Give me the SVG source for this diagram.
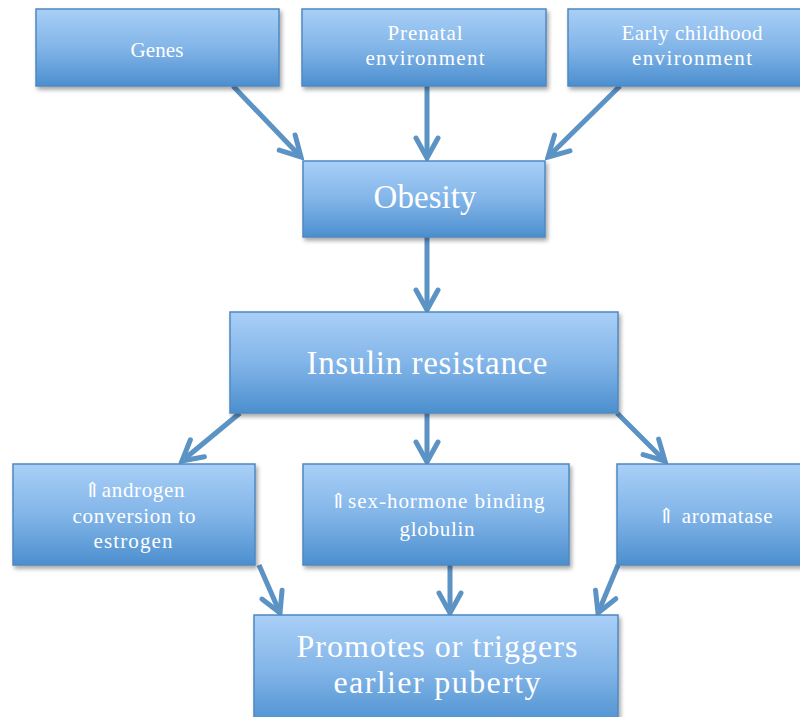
<svg xmlns="http://www.w3.org/2000/svg" width="800" height="717" viewBox="0 0 800 717">
<style>
.box{fill:url(#g);stroke:#4f88c0;stroke-width:1.5;filter:url(#sh)}
.t{font-family:"Liberation Serif","DejaVu Serif",serif;fill:#fff;text-anchor:middle}
.s{font-size:21px}
.b{font-size:33px}
.c{stroke:#5b93c4;stroke-width:5;fill:none;marker-end:url(#ah)}
</style>
<defs>
<linearGradient id="g" x1="0" y1="0" x2="0" y2="1">
<stop offset="0" stop-color="#a9cff7"/>
<stop offset="0.5" stop-color="#82b5e8"/>
<stop offset="1" stop-color="#4c8fcf"/>
</linearGradient>
<filter id="sh" x="-10%" y="-10%" width="120%" height="130%">
<feDropShadow dx="2" dy="3" stdDeviation="2" flood-color="#000" flood-opacity="0.35"/>
</filter>
<marker id="ah" markerUnits="userSpaceOnUse" viewBox="-24 -14 28 28" refX="0" refY="0" markerWidth="28" markerHeight="28" orient="auto">
<path d="M-20,-11 L0,0 L-20,11" fill="none" stroke="#5b93c4" stroke-width="5" stroke-linecap="round" stroke-linejoin="miter"/>
</marker>
</defs>
<rect width="800" height="717" fill="#fff"/>
<g id="connectors">
<line class="c" x1="233" y1="86" x2="301" y2="157"/>
<line class="c" x1="427" y1="86" x2="427" y2="158"/>
<line class="c" x1="620" y1="86" x2="548" y2="157"/>
<line class="c" x1="427" y1="237" x2="427" y2="310"/>
<line class="c" x1="240" y1="413" x2="182" y2="461"/>
<line class="c" x1="427" y1="413" x2="427" y2="462"/>
<line class="c" x1="617" y1="413" x2="665" y2="461"/>
<line class="c" x1="259" y1="565" x2="280" y2="613"/>
<line class="c" x1="450" y1="565" x2="450" y2="613"/>
<line class="c" x1="618" y1="565" x2="598" y2="613"/>
</g>
<g id="genes">
<rect class="box" x="36" y="9" width="243" height="77"/>
<text class="t s" x="157" y="57" textLength="53">Genes</text>
</g>
<g id="prenatal">
<rect class="box" x="302" y="9" width="244" height="77"/>
<text class="t s" x="425" y="40" textLength="75">Prenatal</text>
<text class="t s" x="425" y="65" textLength="119">environment</text>
</g>
<g id="early">
<rect class="box" x="568" y="9" width="246" height="77"/>
<text class="t s" x="692" y="40" textLength="141">Early childhood</text>
<text class="t s" x="692" y="65" textLength="120">environment</text>
</g>
<g id="obesity">
<rect class="box" x="303" y="161" width="242" height="76"/>
<text class="t b" x="425" y="208" textLength="103">Obesity</text>
</g>
<g id="insulin">
<rect class="box" x="230" y="312" width="388" height="101"/>
<text class="t b" x="427" y="374" textLength="241">Insulin resistance</text>
</g>
<g id="androgen">
<rect class="box" x="13" y="464" width="242" height="101"/>
<text class="t s" x="134" y="497" textLength="101">⇑androgen</text>
<text class="t s" x="134" y="523" textLength="123">conversion to</text>
<text class="t s" x="133" y="548" textLength="79">estrogen</text>
</g>
<g id="shbg">
<rect class="box" x="303" y="464" width="266" height="101"/>
<text class="t s" x="437" y="508" textLength="215">⇑sex-hormone binding</text>
<text class="t s" x="437" y="536" textLength="75">globulin</text>
</g>
<g id="aromatase">
<rect class="box" x="617" y="464" width="196" height="101"/>
<text class="t s" x="715" y="523" textLength="115">⇑ aromatase</text>
</g>
<g id="puberty">
<rect class="box" x="254" y="615" width="364" height="112"/>
<text class="t" style="font-size:32px" x="437" y="657" textLength="281">Promotes or triggers</text>
<text class="t" style="font-size:32px" x="437" y="693" textLength="207">earlier puberty</text>
</g>
</svg>
